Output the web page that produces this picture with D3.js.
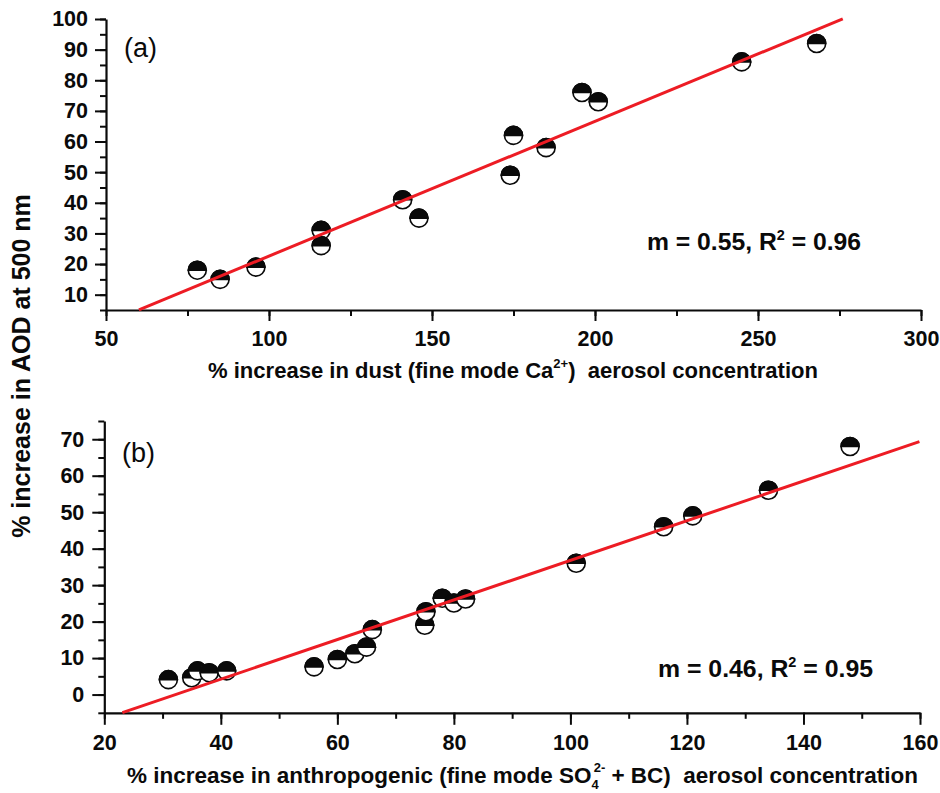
<!DOCTYPE html>
<html>
<head>
<meta charset="utf-8">
<script src="https://cdn.jsdelivr.net/npm/d3@7"></script>
<style>
  html, body { margin: 0; padding: 0; background: #fff; }
  svg text { font-family: "Liberation Sans", Arial, sans-serif; }
</style>
</head>
<body>
<svg id="chart" width="940" height="793"></svg>
<script>
// ---------- DATA ----------
// Panel (a): % increase in dust (fine mode Ca2+) vs % increase in AOD
const dustX = [78, 85, 96, 116, 116, 141, 146, 174, 175, 185, 196, 201, 245, 268];
const dustY = [18, 15, 19, 31, 26, 41, 35, 49, 62, 58, 76, 73, 86, 92];
// Panel (b): % increase in anthropogenic (SO4 + BC) vs % increase in AOD
const anthX = [31, 35, 36, 38, 41, 56, 60, 63, 65, 66, 75, 75.2, 78, 80, 82, 101, 116, 121, 134, 148];
const anthY = [4.1, 4.6, 6.5, 6, 6.5, 7.6, 9.6, 11.2, 13, 17.8, 19, 22.7, 26.4, 25.1, 26.2, 36, 46, 49, 56, 68];
// regression lines as drawn: slope, intercept, x extent
const fitA = { slope: 0.44, intercept: -21.4, x0: 60.1, x1: 276 };
const fitB = { slope: 0.543, intercept: -17.5, x0: 23.1, x1: 159.9 };
// ticks
const ticksAX = [50, 100, 150, 200, 250, 300];
const ticksAY = [10, 20, 30, 40, 50, 60, 70, 80, 90, 100];
const ticksBX = [20, 40, 60, 80, 100, 120, 140, 160];
const ticksBY = [0, 10, 20, 30, 40, 50, 60, 70];
const minorAX = d3.range(50, 301, 25);
const minorAY = d3.range(5, 101, 5);
const minorBX = d3.range(20, 161, 10);
const minorBY = d3.range(-5, 76, 5);

// ---------- DRAW ----------
const svg = d3.select("#chart");
const RED = "#ed1c24";
const INK = "#0a0a0a";

function panel(cfg) {
  const x = d3.scaleLinear().domain(cfg.xd).range(cfg.xr);
  const y = d3.scaleLinear().domain(cfg.yd).range(cfg.yr);
  const g = svg.append("g");

  // minor ticks
  g.append("g").attr("transform", `translate(0,${cfg.yr[0]})`)
    .call(d3.axisBottom(x).tickValues(cfg.minorX).tickSize(6).tickSizeOuter(0).tickFormat(""))
    .call(s => s.select(".domain").remove())
    .call(s => s.selectAll("line").attr("stroke", INK).attr("stroke-width", 2));
  g.append("g").attr("transform", `translate(${cfg.xr[0]},0)`)
    .call(d3.axisLeft(y).tickValues(cfg.minorY).tickSize(6).tickSizeOuter(0).tickFormat(""))
    .call(s => s.select(".domain").remove())
    .call(s => s.selectAll("line").attr("stroke", INK).attr("stroke-width", 2));

  // major
  const xa = g.append("g").attr("transform", `translate(0,${cfg.yr[0]})`)
    .call(d3.axisBottom(x).tickValues(cfg.ticksX).tickSize(cfg.tick).tickSizeOuter(0).tickPadding(cfg.xpad));
  const ya = g.append("g").attr("transform", `translate(${cfg.xr[0]},0)`)
    .call(d3.axisLeft(y).tickValues(cfg.ticksY).tickSize(cfg.tick).tickSizeOuter(0).tickPadding(cfg.ypad));
  [xa, ya].forEach(a => {
    a.select(".domain").attr("stroke", INK).attr("stroke-width", 2.2);
    a.selectAll("line").attr("stroke", INK).attr("stroke-width", 2);
    a.selectAll("text").attr("font-size", 21.5).attr("font-weight", "bold")
      .attr("fill", INK).attr("font-family", '"Liberation Sans", Arial, sans-serif');
  });

  // markers
  const pts = cfg.xs.map((v, i) => [v, cfg.ys[i]]);
  const r = 9;
  const m = g.append("g").selectAll("g").data(pts).join("g")
    .attr("transform", d => `translate(${x(d[0])},${y(d[1])})`);
  m.append("circle").attr("r", r).attr("fill", "#fff").attr("stroke", INK).attr("stroke-width", 1.6);
  m.append("path").attr("d", `M${-r},0 A${r},${r} 0 0 1 ${r},0 Z`)
    .attr("fill", INK).attr("stroke", INK).attr("stroke-width", 1.6);

  // fit line
  const f = cfg.fit;
  g.append("line")
    .attr("x1", x(f.x0)).attr("y1", y(f.slope * f.x0 + f.intercept))
    .attr("x2", x(f.x1)).attr("y2", y(f.slope * f.x1 + f.intercept))
    .attr("stroke", RED).attr("stroke-width", 3);

  // panel label
  g.append("text").attr("x", cfg.labelPos[0]).attr("y", cfg.labelPos[1])
    .attr("font-size", 27).attr("fill", INK).text(cfg.label);

  // stats
  const st = g.append("text").attr("x", cfg.statPos[0]).attr("y", cfg.statPos[1])
    .attr("font-size", 24).attr("font-weight", "bold").attr("fill", INK)
    .attr("textLength", cfg.statLen).attr("lengthAdjust", "spacingAndGlyphs");
  st.append("tspan").text(cfg.stat[0] + ", R");
  st.append("tspan").attr("font-size", 14).attr("dy", -10).text("2");
  st.append("tspan").attr("dy", 10).text(" = " + cfg.stat[1]);
  return { x, y, g };
}

panel({
  xd: [50, 300], xr: [106, 921], yd: [5, 100], yr: [310, 19],
  ticksX: ticksAX, ticksY: ticksAY, minorX: minorAX, minorY: minorAY,
  tick: 11, xpad: 10, ypad: 7,
  xs: dustX, ys: dustY, fit: fitA,
  label: "(a)", labelPos: [124, 57],
  stat: ["m = 0.55", "0.96"], statPos: [647, 250], statLen: 214
});

panel({
  xd: [20, 160], xr: [104.3, 920], yd: [-5, 75], yr: [712.8, 421],
  ticksX: ticksBX, ticksY: ticksBY, minorX: minorBX, minorY: minorBY,
  tick: 12, xpad: 10, ypad: 8,
  xs: anthX, ys: anthY, fit: fitB,
  label: "(b)", labelPos: [122, 462],
  stat: ["m = 0.46", "0.95"], statPos: [658, 677], statLen: 215
});

// x titles
const t1 = svg.append("text").attr("x", 208).attr("y", 378)
  .attr("font-size", 22).attr("font-weight", "bold").attr("fill", INK)
  .attr("textLength", 610).attr("lengthAdjust", "spacingAndGlyphs");
t1.append("tspan").text("% increase in dust (fine mode Ca");
t1.append("tspan").attr("font-size", 13).attr("dy", -10).text("2+");
t1.append("tspan").attr("dy", 10).text(")\u00a0\u00a0aerosol concentration");

const t2 = svg.append("text").attr("x", 127).attr("y", 783)
  .attr("font-size", 22.5).attr("font-weight", "bold").attr("fill", INK)
  .attr("textLength", 791).attr("lengthAdjust", "spacingAndGlyphs");
t2.append("tspan").text("% increase in anthropogenic (fine mode SO");
t2.append("tspan").attr("font-size", 13).attr("dy", 6).text("4");
t2.append("tspan").attr("font-size", 13).attr("dx", -5).attr("dy", -17).text("2-");
t2.append("tspan").attr("dy", 11).text(" + BC)\u00a0\u00a0aerosol concentration");

// y title
svg.append("text")
  .attr("transform", "translate(30,366) rotate(-90)")
  .attr("text-anchor", "middle")
  .attr("font-size", 25).attr("font-weight", "bold").attr("fill", INK)
  .text("% increase in AOD at 500 nm");
</script>
</body>
</html>
